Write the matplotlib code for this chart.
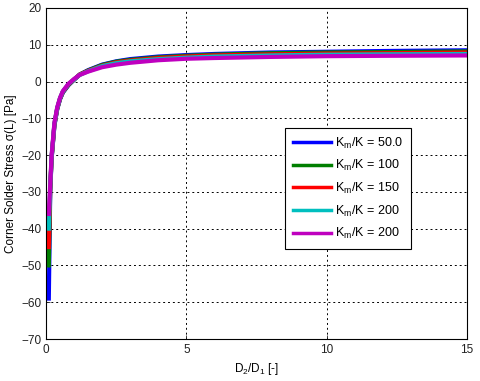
import matplotlib
matplotlib.use("Agg")
import matplotlib.pyplot as plt

plt.rcParams['font.family'] = ['Liberation Sans', 'DejaVu Sans']
plt.rcParams['mathtext.fontset'] = 'custom'
plt.rcParams['mathtext.rm'] = 'Liberation Sans'
plt.rcParams['mathtext.it'] = 'Liberation Sans'

x = [0.1, 0.15, 0.2, 0.3, 0.4, 0.5, 0.6, 0.8, 1.0, 1.2, 1.5, 2.0, 2.5, 3.0, 4.0, 5.0, 6.0, 8.0, 10.0, 12.0, 15.0]

labels = ["K$_\\mathrm{m}$/K = 50.0", "K$_\\mathrm{m}$/K = 100", "K$_\\mathrm{m}$/K = 150",
          "K$_\\mathrm{m}$/K = 200", "K$_\\mathrm{m}$/K = 200"]
colors = ["#0000ff", "#007f00", "#ff0000", "#00bfbf", "#bf00bf"]

y_blue = [-59, -30, -21, -12, -7.5, -4.8, -3.0, -1.0, 0.5, 1.9, 3.1, 4.6, 5.5, 6.1, 6.8, 7.2, 7.5, 7.9, 8.1, 8.3, 8.5]
y_green = [-50, -29.5, -20.8, -11.8, -7.4, -4.7, -2.9, -0.9, 0.5, 1.9, 3.0, 4.5, 5.4, 5.9, 6.6, 7.0, 7.3, 7.7, 7.9, 8.0, 8.2]
y_red = [-45, -29, -20.6, -11.6, -7.3, -4.6, -2.8, -0.8, 0.6, 1.9, 2.9, 4.3, 5.2, 5.7, 6.4, 6.8, 7.1, 7.4, 7.6, 7.7, 7.9]
y_cyan = [-40, -28.5, -20.4, -11.4, -7.2, -4.5, -2.7, -0.7, 0.6, 1.8, 2.8, 4.2, 5.0, 5.5, 6.1, 6.5, 6.8, 7.1, 7.3, 7.4, 7.5]
y_mag = [-36, -28, -20, -11.2, -7.0, -4.4, -2.6, -0.6, 0.7, 1.8, 2.7, 3.9, 4.6, 5.1, 5.8, 6.2, 6.4, 6.7, 6.9, 7.0, 7.1]
series = [y_blue, y_green, y_red, y_cyan, y_mag]

fig = plt.figure(figsize=(4.8, 3.81), dpi=100)
ax = fig.add_axes([46/480, 1 - 339/381, 421/480, 331/381])

for ys, c, lab in zip(series, colors, labels):
    ax.plot(x, ys, color=c, lw=3.0, label=lab)

ax.set_xlim(0, 15)
ax.set_ylim(-70, 20)
ax.set_xticks([0, 5, 10, 15])
ax.set_yticks(range(-70, 21, 10))
ax.grid(True, color='black', linestyle=(0, (2, 3)), linewidth=0.7)
ax.tick_params(direction='in', labelsize=8.5, length=3, width=0.6, colors='#222222')
for s in ax.spines.values():
    s.set_linewidth(0.8)

ax.set_xlabel("D$_2$/D$_1$ [-]", fontsize=8.5, labelpad=4)
ax.set_ylabel("Corner Solder Stress \u03c3(L) [Pa]", fontsize=8.5, labelpad=3)

leg = ax.legend(loc='upper left', bbox_to_anchor=(0.568, 0.637), fontsize=9,
                fancybox=False, edgecolor='black', framealpha=1, borderaxespad=0,
                handlelength=3.1, borderpad=0.6, labelspacing=0.6, handletextpad=0.3)
leg.get_frame().set_linewidth(0.8)
for h in leg.get_lines():
    h.set_linewidth(2.5)

fig.savefig("out.png", dpi=100)
